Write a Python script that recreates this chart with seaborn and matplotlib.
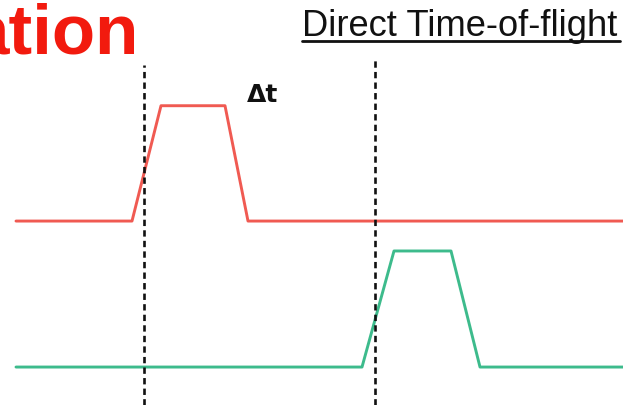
import numpy as np
import pandas as pd
import matplotlib
matplotlib.use("Agg")
import matplotlib.pyplot as plt
import seaborn as sns

# pulse shapes (time in px-like units, level in arbitrary units)
red_t = [16, 132, 161, 225, 248, 623]
red_v = [1.0, 1.0, 1.79, 1.79, 1.0, 1.0]
green_t = [16, 362, 394, 451, 480, 623]
green_v = [0.0, 0.0, 0.795, 0.795, 0.0, 0.0]
signals = ["start", "stop"]
colors = ["#f05a52", "#3dbb8c"]
marker_t = [144, 375]
marker_top = [2.07, 2.11]

sns.set_theme(style="white")
plt.rcParams["font.family"] = ["Liberation Sans", "DejaVu Sans"]

df = pd.DataFrame({
    "t": red_t + green_t,
    "v": red_v + green_v,
    "signal": [signals[0]] * len(red_t) + [signals[1]] * len(green_t),
})

fig = plt.figure(figsize=(6.23, 4.06), dpi=100)
ax = fig.add_axes([0, 0, 1, 1])
sns.lineplot(data=df, x="t", y="v", hue="signal", palette=colors,
             sort=False, estimator=None, legend=False, linewidth=2.1, ax=ax)

ymin = -0.26
for xt, top in zip(marker_t, marker_top):
    ax.vlines(xt, ymin, top, colors="#111111", linestyles=(0, (2.4, 1.6)), linewidth=1.9)

ax.set_xlim(0, 623)
ax.set_ylim(ymin, 2.521)
ax.axis("off")

def px(x, y):
    return x / 623, 1 - y / 406

# the left title is cut by the frame in the reference as well
ax.text(*px(139, 53), "ation", transform=ax.transAxes, ha="right", va="baseline",
        fontsize=51, fontweight="bold", color="#f21a0e")
ax.text(*px(302, 36), "Direct Time-of-flight", transform=ax.transAxes, ha="left",
        va="baseline", fontsize=26.2, color="#111111")
ax.plot([302 / 623, 620 / 623], [1 - 42 / 406] * 2, transform=ax.transAxes,
        color="#111111", linewidth=2.0)
ax.text(*px(247, 102), "Δt", transform=ax.transAxes, ha="left", va="baseline",
        fontsize=18, fontweight="bold", family=["DejaVu Sans"], color="#111111")

fig.savefig("out.png", dpi=100)
